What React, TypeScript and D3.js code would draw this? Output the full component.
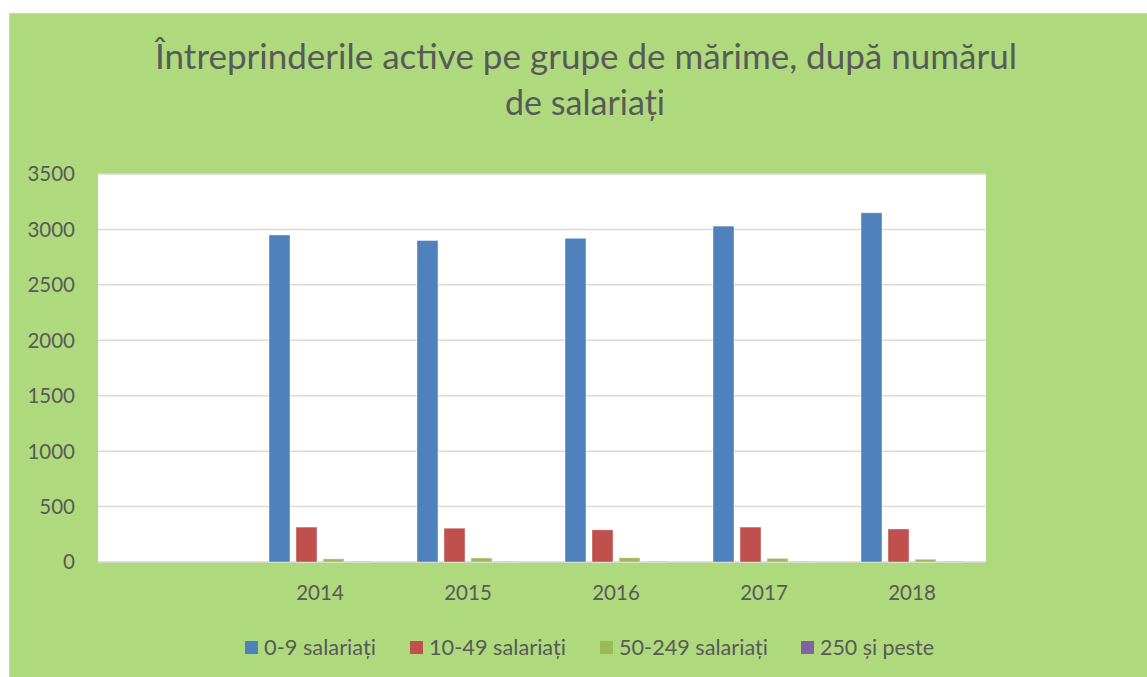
import React, { useEffect, useRef } from 'react';
import * as d3 from 'd3';

const categories = ['', '2014', '2015', '2016', '2017', '2018'];
const years = ['2014', '2015', '2016', '2017', '2018'];
const seriesNames = ['0-9 salariați', '10-49 salariați', '50-249 salariați', '250 și peste'];
const micro = [2950, 2900, 2920, 3030, 3150];
const small = [315, 305, 290, 315, 298];
const medium = [28, 36, 38, 33, 25];
const large = [3, 3, 3, 3, 3];
const yTicks = [0, 500, 1000, 1500, 2000, 2500, 3000, 3500];
const colors = ['#4f81bd', '#c0504d', '#9bbb59', '#8064a2'];

const W = 1147;
const H = 677;
const FONT = 'Lato, "Open Sans", sans-serif';

export default function App() {
  const ref = useRef<SVGSVGElement | null>(null);

  useEffect(() => {
    const svg = d3.select(ref.current);
    svg.selectAll('*').remove();

    // chart background
    svg.append('rect')
      .attr('x', 9.5).attr('y', 13.5)
      .attr('width', W).attr('height', H)
      .attr('fill', '#aeda7d')
      .attr('stroke', '#d0d0d0')
      .attr('stroke-width', 1);

    // title (two lines, widths fitted to the original)
    const title = svg.append('text')
      .attr('text-anchor', 'middle')
      .attr('fill', '#595959')
      .style('font-family', FONT)
      .style('font-size', '35px');
    title.append('tspan').attr('x', 586).attr('y', 69)
      .attr('textLength', 862).attr('lengthAdjust', 'spacingAndGlyphs')
      .text('Întreprinderile active pe grupe de mărime, după numărul');
    title.append('tspan').attr('x', 585).attr('y', 115)
      .attr('textLength', 160).attr('lengthAdjust', 'spacingAndGlyphs')
      .text('de salariați');

    const x = d3.scaleBand().domain(categories).range([98, 986]);
    const y = d3.scaleLinear().domain([0, 3500]).range([562, 174]);
    const inner = d3.scaleBand<number>()
      .domain([0, 1, 2, 3])
      .range([-51, 51])
      .paddingInner(0.222);

    // plot area
    svg.append('rect')
      .attr('x', 98).attr('y', 174)
      .attr('width', 888).attr('height', 388)
      .attr('fill', '#ffffff');

    // gridlines
    svg.append('g')
      .selectAll('line')
      .data(yTicks)
      .join('line')
      .attr('x1', 98).attr('x2', 986)
      .attr('y1', d => y(d)).attr('y2', d => y(d))
      .attr('stroke', '#d9d9d9')
      .attr('stroke-width', 1.5);

    // y labels
    svg.append('g')
      .selectAll('text')
      .data(yTicks)
      .join('text')
      .attr('x', 75)
      .attr('y', d => y(d))
      .attr('dy', '0.36em')
      .attr('text-anchor', 'end')
      .attr('fill', '#595959')
      .style('font-family', FONT)
      .style('font-size', '20.5px')
      .text(d => d);

    // x labels
    svg.append('g')
      .selectAll('text')
      .data(categories)
      .join('text')
      .attr('x', d => (x(d) as number) + x.bandwidth() / 2)
      .attr('y', 593)
      .attr('dy', '0.36em')
      .attr('text-anchor', 'middle')
      .attr('fill', '#595959')
      .style('font-family', FONT)
      .style('font-size', '20.5px')
      .text(d => d);

    // bars
    const series = [micro, small, medium, large];
    series.forEach((vals, si) => {
      svg.append('g')
        .selectAll('rect')
        .data(vals)
        .join('rect')
        .attr('x', (d, i) => (x(years[i]) as number) + x.bandwidth() / 2 + (inner(si) as number))
        .attr('y', d => y(d))
        .attr('width', inner.bandwidth())
        .attr('height', d => y(0) - y(d))
        .attr('fill', colors[si])
        .attr('stroke', '#ffffff')
        .attr('stroke-opacity', 0.5)
        .attr('stroke-width', 0.8);
    });

    // legend
    const legendX = [245, 410, 600, 801];
    const legendW = [112, 137, 149, 114];
    const lg = svg.append('g');
    seriesNames.forEach((name, i) => {
      lg.append('rect')
        .attr('x', legendX[i]).attr('y', 641)
        .attr('width', 13).attr('height', 13)
        .attr('fill', colors[i]);
      lg.append('text')
        .attr('x', legendX[i] + 19)
        .attr('y', 647.5)
        .attr('dy', '0.36em')
        .attr('fill', '#595959')
        .attr('textLength', legendW[i])
        .attr('lengthAdjust', 'spacingAndGlyphs')
        .style('font-family', FONT)
        .style('font-size', '20.5px')
        .text(name);
    });
  }, []);

  return (
    <svg
      ref={ref}
      width={W}
      height={H}
      style={{ position: 'absolute', left: 0, top: 0, background: '#ffffff' }}
    />
  );
}
